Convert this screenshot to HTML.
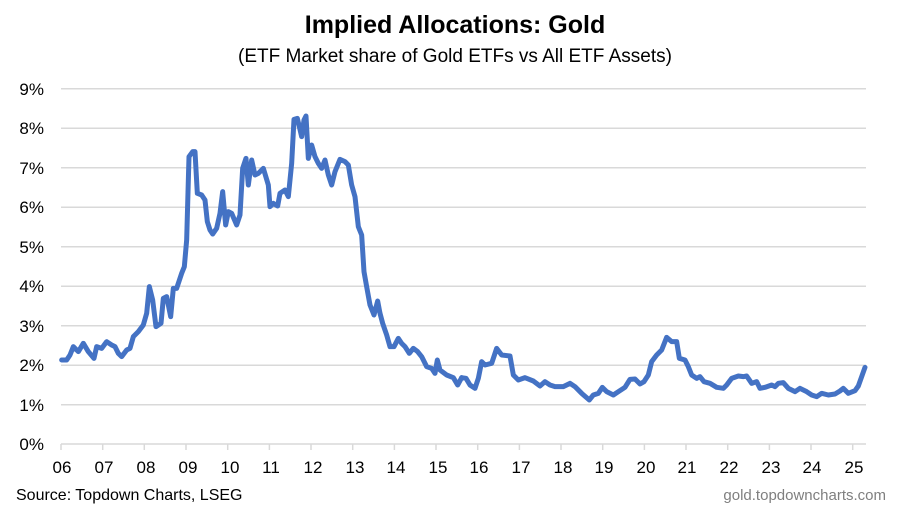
<!DOCTYPE html>
<html><head><style>
body{margin:0;background:#fff;width:909px;height:521px;overflow:hidden;font-family:"Liberation Sans",sans-serif}
</style></head><body>
<svg width="909" height="521" xmlns="http://www.w3.org/2000/svg" font-family="Liberation Sans, sans-serif">
<text x="455" y="33" text-anchor="middle" font-size="25" font-weight="bold" fill="#000">Implied Allocations: Gold</text>
<text x="455" y="62" text-anchor="middle" font-size="19" fill="#000">(ETF Market share of Gold ETFs vs All ETF Assets)</text>
<g stroke="#d9d9d9" stroke-width="1.5">
<line x1="61" x2="866" y1="88.7" y2="88.7"/><line x1="61" x2="866" y1="128.2" y2="128.2"/>
<line x1="61" x2="866" y1="167.7" y2="167.7"/><line x1="61" x2="866" y1="207.2" y2="207.2"/>
<line x1="61" x2="866" y1="246.7" y2="246.7"/><line x1="61" x2="866" y1="286.2" y2="286.2"/>
<line x1="61" x2="866" y1="325.7" y2="325.7"/><line x1="61" x2="866" y1="365.2" y2="365.2"/>
<line x1="61" x2="866" y1="404.7" y2="404.7"/><line x1="61" x2="866" y1="444" y2="444"/>
</g>
<g stroke="#d9d9d9" stroke-width="1.5">
<line x1="61" x2="61" y1="444" y2="450"/><line x1="102.7" x2="102.7" y1="444" y2="450"/><line x1="144.3" x2="144.3" y1="444" y2="450"/><line x1="186" x2="186" y1="444" y2="450"/><line x1="227.7" x2="227.7" y1="444" y2="450"/><line x1="269.4" x2="269.4" y1="444" y2="450"/><line x1="311" x2="311" y1="444" y2="450"/><line x1="352.7" x2="352.7" y1="444" y2="450"/><line x1="394.4" x2="394.4" y1="444" y2="450"/><line x1="436" x2="436" y1="444" y2="450"/><line x1="477.7" x2="477.7" y1="444" y2="450"/><line x1="519.4" x2="519.4" y1="444" y2="450"/><line x1="561" x2="561" y1="444" y2="450"/><line x1="602.7" x2="602.7" y1="444" y2="450"/><line x1="644.4" x2="644.4" y1="444" y2="450"/><line x1="686" x2="686" y1="444" y2="450"/><line x1="727.7" x2="727.7" y1="444" y2="450"/><line x1="769.4" x2="769.4" y1="444" y2="450"/><line x1="811" x2="811" y1="444" y2="450"/><line x1="852.7" x2="852.7" y1="444" y2="450"/>
</g>
<g font-size="17" fill="#000" text-anchor="end">
<text x="44" y="95">9%</text><text x="44" y="134">8%</text><text x="44" y="174">7%</text><text x="44" y="213">6%</text><text x="44" y="253">5%</text><text x="44" y="292">4%</text><text x="44" y="332">3%</text><text x="44" y="371">2%</text><text x="44" y="411">1%</text><text x="44" y="450">0%</text>
</g>
<g font-size="17" fill="#000" text-anchor="middle">
<text x="62" y="473">06</text><text x="104" y="473">07</text><text x="146" y="473">08</text><text x="188" y="473">09</text><text x="230" y="473">10</text><text x="271" y="473">11</text><text x="313" y="473">12</text><text x="355" y="473">13</text><text x="396" y="473">14</text><text x="438" y="473">15</text><text x="479" y="473">16</text><text x="521" y="473">17</text><text x="563" y="473">18</text><text x="604" y="473">19</text><text x="646" y="473">20</text><text x="687" y="473">21</text><text x="729" y="473">22</text><text x="771" y="473">23</text><text x="812" y="473">24</text><text x="854" y="473">25</text>
</g>
<text x="16" y="500" font-size="16" fill="#000">Source: Topdown Charts, LSEG</text>
<text x="886" y="500" font-size="15" fill="#7f7f7f" text-anchor="end">gold.topdowncharts.com</text>
<g fill="none" stroke="#4472c4" stroke-width="15" stroke-linejoin="round" stroke-linecap="round">
<polyline transform="translate(0,80) scale(0.33333)" points="185,840 200,840 210,825 220,800 235,815 250,790 265,815 282,835 290,800 305,805 320,785 335,795 345,800 355,820 365,830 380,810 390,805 400,770 415,755 430,735 440,700 448,620 458,660 468,740 483,730 490,655 500,650 512,710 520,625 530,625 545,580 553,560 560,480 567,230 578,215 585,215 592,340 605,345 615,360 622,425 630,450 638,462 650,445 660,400 668,335 677,435 685,395 695,400 710,435 720,405 728,265 738,235 745,315 755,240 765,285 775,280 790,265 805,315 810,380 820,370 833,378 840,340 855,330 865,350 875,250 882,118 892,115 898,140 905,170 912,120 918,108 925,235 935,195 945,230 955,250 965,265 975,240 985,285 995,315 1005,275 1020,238 1035,245 1045,255 1055,315 1065,350 1075,440 1085,465 1092,575 1100,620 1110,675 1122,705 1133,663 1140,700 1148,730 1160,765 1170,800 1182,800 1195,775 1205,790 1215,800 1228,820 1240,805 1253,815 1265,830 1280,860 1295,865 1305,880 1312,840 1320,870 1340,885 1360,893 1373,915 1385,893"/>
<polyline transform="translate(440,80) scale(0.33333)" points="65,893 78,895 90,915 105,925 115,895 125,845 135,855 155,850 170,805 185,825 210,828 220,885 235,900 255,893 280,903 300,918 315,905 330,915 345,920 370,920 390,910 405,920 425,940 448,960 460,945 475,940 487,922 500,935 520,945 535,935 555,922 570,898 585,897 600,912 612,905 625,885 635,845 650,825 665,810 680,772 695,785 710,785 718,835 735,840 745,860 755,885 770,895 780,890 792,905 810,910 830,922 850,925 860,915 875,895 895,888 910,890 920,888 935,910 950,905 960,925 975,922 995,915 1005,920 1015,910 1030,908 1045,925 1065,935 1080,925 1100,935 1115,945 1130,950 1145,940 1165,945 1185,942 1200,933 1210,925 1225,940 1245,932 1255,918 1265,890 1275,862"/>
</g>
</svg>
</body></html>
